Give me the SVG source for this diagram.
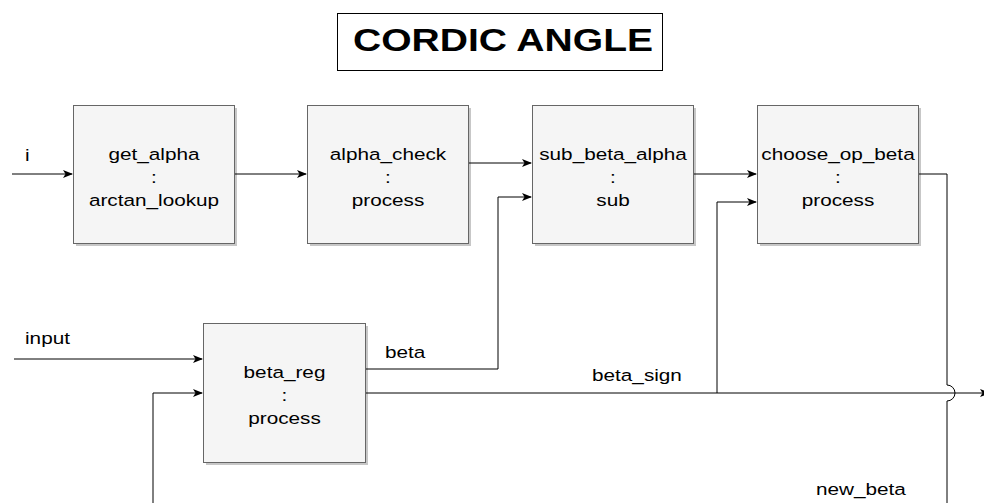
<svg xmlns="http://www.w3.org/2000/svg" width="984" height="503" viewBox="0 0 984 503">
<defs>
<marker id="arr" viewBox="0 0 10 10" refX="9" refY="5" markerWidth="10" markerHeight="10" markerUnits="userSpaceOnUse" orient="auto">
<path d="M0,1 L10,5 L0,9 L2.5,5 Z" fill="#000"/>
</marker>
</defs>
<style>
.box{fill:#f5f5f5;stroke:#666;stroke-width:1}
.sh{fill:#000;opacity:0.22}
.t{font-family:"Liberation Sans",Arial,Helvetica,sans-serif;font-size:17px;fill:#000}
.c{text-anchor:middle}
.ln{fill:none;stroke:#000;stroke-width:1}
.title{font-family:"Liberation Sans",Arial,Helvetica,sans-serif;font-size:31px;font-weight:bold;text-anchor:middle;fill:#000}
</style>
<rect width="984" height="503" fill="#fff"/>
<g id="title">
<rect x="337.5" y="13.5" width="325" height="57" fill="#fff" stroke="#000"/>
<text class="title" transform="translate(503,51) scale(1.26,1)">CORDIC ANGLE</text>
</g>
<g id="connectors">
<path class="ln" d="M12,174 H72" marker-end="url(#arr)"/>
<path class="ln" d="M234,174 H306" marker-end="url(#arr)"/>
<path class="ln" d="M468,163 H531" marker-end="url(#arr)"/>
<path class="ln" d="M693,174 H756" marker-end="url(#arr)"/>
<path class="ln" d="M365,369 H498 V197 H531" marker-end="url(#arr)"/>
<path class="ln" d="M365,393 H717 V202 H756" marker-end="url(#arr)"/>
<path class="ln" d="M717,393 H989" marker-end="url(#arr)"/>
<path class="ln" d="M918,174 H947 V385 A8,8 0 0,1 947,401 V510"/>
<path class="ln" d="M14,359 H202" marker-end="url(#arr)"/>
<path class="ln" d="M153,510 V393 H202" marker-end="url(#arr)"/>
<text class="t" transform="translate(25,161) scale(1.22,1)">i</text>
<text class="t" transform="translate(25,344) scale(1.22,1)">input</text>
<text class="t" transform="translate(385,358) scale(1.22,1)">beta</text>
<text class="t" transform="translate(592,381) scale(1.22,1)">beta_sign</text>
<text class="t" transform="translate(816,495) scale(1.22,1)">new_beta</text>
</g>
<g id="get_alpha">
<rect class="sh" x="76" y="108" width="161" height="138"/>
<rect class="box" x="73.5" y="105.5" width="161" height="138"/>
<text class="t c" transform="translate(154,159.5) scale(1.22,1)">get_alpha</text>
<text class="t c" transform="translate(154,182.5) scale(1.22,1)">:</text>
<text class="t c" transform="translate(154,205.5) scale(1.22,1)">arctan_lookup</text>
</g>
<g id="alpha_check">
<rect class="sh" x="310" y="108" width="161" height="138"/>
<rect class="box" x="307.5" y="105.5" width="161" height="138"/>
<text class="t c" transform="translate(388,159.5) scale(1.22,1)">alpha_check</text>
<text class="t c" transform="translate(388,182.5) scale(1.22,1)">:</text>
<text class="t c" transform="translate(388,205.5) scale(1.22,1)">process</text>
</g>
<g id="sub_beta_alpha">
<rect class="sh" x="535" y="108" width="161" height="138"/>
<rect class="box" x="532.5" y="105.5" width="161" height="138"/>
<text class="t c" transform="translate(613,159.5) scale(1.22,1)">sub_beta_alpha</text>
<text class="t c" transform="translate(613,182.5) scale(1.22,1)">:</text>
<text class="t c" transform="translate(613,205.5) scale(1.22,1)">sub</text>
</g>
<g id="choose_op_beta">
<rect class="sh" x="760" y="108" width="161" height="138"/>
<rect class="box" x="757.5" y="105.5" width="161" height="138"/>
<text class="t c" transform="translate(838,159.5) scale(1.22,1)">choose_op_beta</text>
<text class="t c" transform="translate(838,182.5) scale(1.22,1)">:</text>
<text class="t c" transform="translate(838,205.5) scale(1.22,1)">process</text>
</g>
<g id="beta_reg">
<rect class="sh" x="206" y="326" width="162" height="139"/>
<rect class="box" x="203.5" y="323.5" width="162" height="139"/>
<text class="t c" transform="translate(284.5,378) scale(1.22,1)">beta_reg</text>
<text class="t c" transform="translate(284.5,401) scale(1.22,1)">:</text>
<text class="t c" transform="translate(284.5,424) scale(1.22,1)">process</text>
</g>
</svg>
